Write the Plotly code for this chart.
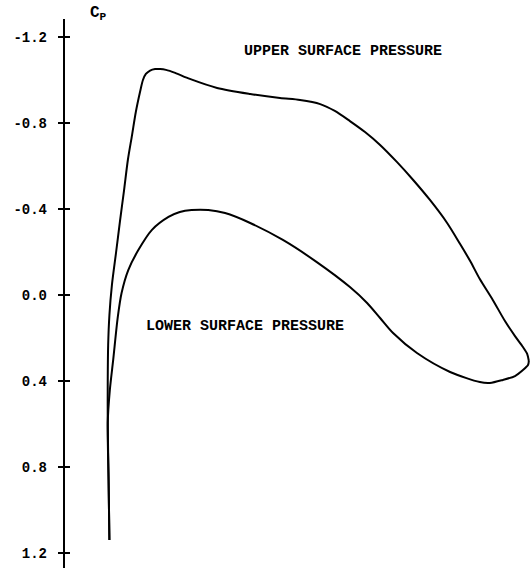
import plotly.graph_objects as go

# chordwise position x/c and pressure coefficient Cp
upper_x = [0.001, -0.001, -0.003, -0.003, -0.002, 0.001, 0.007, 0.017, 0.026, 0.036, 0.045, 0.055,
           0.064, 0.074, 0.081, 0.088, 0.098, 0.110, 0.122, 0.136, 0.158, 0.193, 0.258, 0.337,
           0.408, 0.456, 0.504, 0.539, 0.575, 0.611, 0.647, 0.687, 0.726, 0.766, 0.807, 0.838,
           0.862, 0.885, 0.916, 0.945, 0.969, 0.988, 0.998, 1.002]
upper_cp = [1.140, 0.860, 0.595, 0.395, 0.233, 0.093, -0.047, -0.200, -0.340, -0.488, -0.628, -0.744,
            -0.851, -0.944, -1.000, -1.028, -1.044, -1.051, -1.051, -1.047, -1.033, -1.005, -0.963, -0.935,
            -0.916, -0.907, -0.888, -0.856, -0.809, -0.758, -0.698, -0.619, -0.535, -0.442, -0.335, -0.237,
            -0.158, -0.074, 0.023, 0.121, 0.191, 0.242, 0.274, 0.307]

lower_x = [0.001, -0.001, -0.003, 0.002, 0.010, 0.021, 0.030, 0.046, 0.070, 0.102, 0.142, 0.169,
           0.197, 0.237, 0.277, 0.337, 0.415, 0.496, 0.575, 0.616, 0.647, 0.678, 0.735, 0.814,
           0.885, 0.909, 0.940, 0.969, 0.988, 1.000, 1.002]
lower_cp = [1.140, 0.860, 0.595, 0.442, 0.302, 0.102, -0.009, -0.116, -0.209, -0.302, -0.363, -0.386,
            -0.395, -0.395, -0.381, -0.335, -0.256, -0.153, -0.037, 0.037, 0.107, 0.177, 0.270, 0.358,
            0.405, 0.409, 0.395, 0.377, 0.349, 0.326, 0.307]

tick_vals = [-1.2, -0.8, -0.4, 0.0, 0.4, 0.8, 1.2]
tick_text = ["-1.2", "-0.8", "-0.4", "0.0", "0.4", "0.8", "1.2"]

W, H = 530, 568
AX = 64 / W
FONT = dict(family="Liberation Mono", color="black", weight="bold")

fig = go.Figure()
for xs, ys, name in [(upper_x, upper_cp, "upper"), (lower_x, lower_cp, "lower")]:
    fig.add_trace(go.Scatter(x=xs, y=ys, mode="lines", name=name,
                             line=dict(color="black", width=2, shape="spline", smoothing=0.8),
                             hoverinfo="skip"))

shapes = [dict(type="line", xref="paper", yref="y", x0=AX, x1=AX, y0=-1.284, y1=1.3,
               line=dict(color="black", width=2))]
for v in tick_vals:
    shapes.append(dict(type="line", xref="paper", yref="y", x0=58 / W, x1=70 / W, y0=v, y1=v,
                       line=dict(color="black", width=2)))

annotations = [
    dict(text="C<sub>P</sub>", xref="paper", yref="paper", x=88 / W, y=1 - 14 / H,
         xanchor="left", yanchor="middle", showarrow=False, font=dict(size=16, **FONT)),
    dict(text="UPPER SURFACE PRESSURE", xref="paper", yref="paper", x=242 / W, y=1 - 52 / H,
         xanchor="left", yanchor="middle", showarrow=False, font=dict(size=15, **FONT)),
    dict(text="LOWER SURFACE PRESSURE", xref="paper", yref="paper", x=144 / W, y=1 - 326 / H,
         xanchor="left", yanchor="middle", showarrow=False, font=dict(size=15, **FONT)),
]

fig.update_layout(
    width=W, height=H, margin=dict(l=0, r=0, t=0, b=0),
    paper_bgcolor="white", plot_bgcolor="white", showlegend=False,
    xaxis=dict(range=[(0 - 109) / 419, (530 - 109) / 419], visible=False, domain=[0, 1]),
    yaxis=dict(range=[(568 - 295) / 215, (0 - 295) / 215], anchor="free", position=AX,
               showgrid=False, zeroline=False, showline=False, ticks="",
               tickvals=tick_vals, ticktext=tick_text, ticklabelstandoff=17,
               tickfont=dict(size=14, **FONT)),
    shapes=shapes, annotations=annotations,
)

fig.write_html("out.html")
